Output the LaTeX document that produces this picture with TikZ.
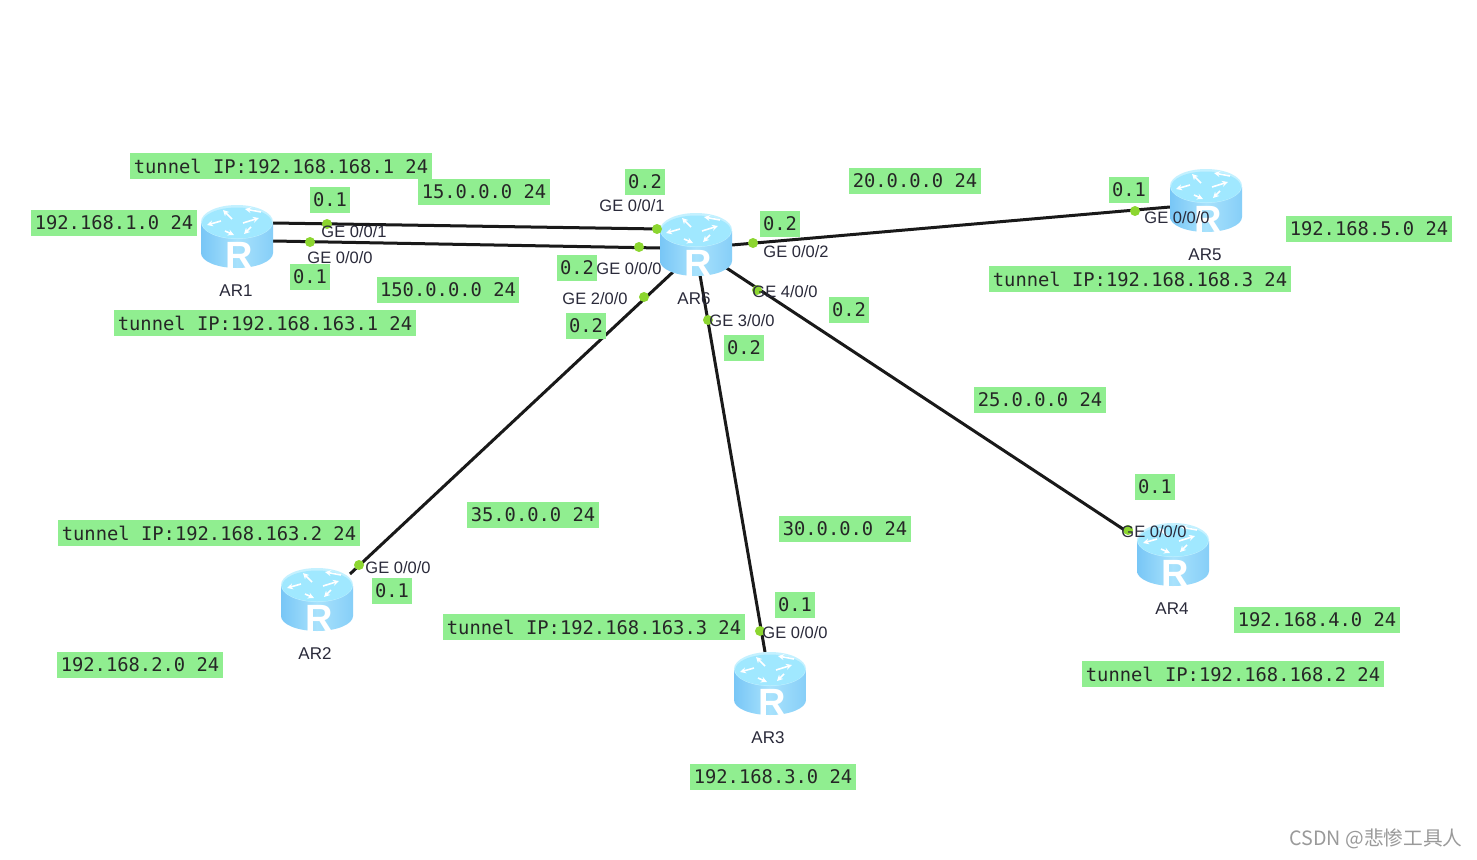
\documentclass[tikz,border=0pt]{standalone}
\usepackage{fontspec}
\setmainfont{Liberation Sans}
\newfontfamily\boxmono{DejaVu Sans Mono}
\newfontfamily\cjkmark{Noto Sans CJK SC}
\usetikzlibrary{calc,arrows.meta}
\definecolor{boxgreen}{HTML}{90EE90}
\definecolor{dotgreen}{HTML}{8CD630}
\definecolor{routertop}{HTML}{A0E8FF}
\definecolor{routerrim}{HTML}{C4F1FF}
\definecolor{routerhi}{HTML}{A8E2FC}
\definecolor{routerlo}{HTML}{78C6F6}
\definecolor{marktext}{HTML}{9A9A9A}
\definecolor{linktext}{HTML}{2A2A3A}
\tikzset{
  x=1pt,y=-1pt,
  greenbox/.style={fill=boxgreen,inner xsep=3.5pt,inner ysep=0pt,minimum height=26pt,font=\boxmono\fontsize{18.8}{20}\selectfont,text=black!85},
  routerbox/.style={minimum width=72pt,minimum height=64pt,inner sep=0pt},
  devlabel/.style={inner sep=0pt,font=\fontsize{17}{19}\selectfont,text=linktext},
  portlabel/.style={inner sep=0pt,font=\fontsize{16.5}{18}\selectfont,text=linktext},
  portdot/.style={circle,fill=dotgreen,minimum size=10pt,inner sep=0pt},
  linkline/.style={draw=black!90,line width=3pt},
  routerarrow/.style={white,line width=1.6pt,-{Stealth[length=6pt,width=6pt]}},
  pics/routerpic/.style={code={
    \shade[left color=routerlo,right color=routerlo!70!routerhi,middle color=routerhi]
      (-36,-13) -- (-36,17) arc (180:0:36 and 15) -- (36,-13) -- cycle;
    \fill[routerrim] (0,-14) ellipse (36 and 17);
    \fill[routertop] (0,-13) ellipse (35 and 15.5);
    \draw[routerarrow] (-5,-17) -- (-14,-26);
    \draw[routerarrow] (-16,-15) -- (-30,-11);
    \draw[routerarrow] (6,-13) -- (22,-18);
    \draw[routerarrow] (14,-9) -- (7,-2);
    \draw[routerarrow] (-12,-5) -- (-3,-1);
    \draw[routerarrow] (24,-24) -- (8,-27);
    \node[inner sep=0pt,text=white,font=\bfseries\fontsize{38}{40}\selectfont] at (2,19) {R};
  }}
}
\begin{document}
\begin{tikzpicture}
\useasboundingbox[fill=white] (0,0) rectangle (1477,859);
% routers (anchors)
\node[routerbox] (ar1) at (237,236) {};
\node[routerbox] (ar2) at (317,599) {};
\node[routerbox] (ar3) at (770,683) {};
\node[routerbox] (ar4) at (1173,554) {};
\node[routerbox] (ar5) at (1206,200) {};
\node[routerbox] (ar6) at (696,244) {};
% link ends
\coordinate (l1a) at ($(ar1)+(36,-13)$);
\coordinate (l1b) at ($(ar6)+(-36,-15)$);
\coordinate (l2a) at ($(ar1)+(36,5)$);
\coordinate (l2b) at ($(ar6)+(-36,4)$);
\coordinate (l5a) at ($(ar6)+(36,1)$);
\coordinate (l5b) at ($(ar5)+(-36,7)$);
\coordinate (l4a) at ($(ar6)+(29,23)$);
\coordinate (l4b) at ($(ar4)+(-47,-23)$);
\coordinate (l3a) at ($(ar6)+(4,31)$);
\coordinate (l3b) at ($(ar3)+(-5,-31)$);
\coordinate (l2c) at ($(ar6)+(-23,28)$);
\coordinate (l2d) at ($(ar2)+(33,-25)$);
% connectors
\draw[linkline] (l1a) -- (l1b);
\draw[linkline] (l2a) -- (l2b);
\draw[linkline] (l5a) -- (l5b);
\draw[linkline] (l4a) -- (l4b);
\draw[linkline] (l3a) -- (l3b);
\draw[linkline] (l2c) -- (l2d);
% router bodies
\foreach \r in {ar1,ar2,ar3,ar4,ar5,ar6} {\pic at (\r) {routerpic};}
% port dots
\node[portdot] (d1) at (327,224) {};
\node[portdot] (d2) at (310,242) {};
\node[portdot] (d3) at (657,229) {};
\node[portdot] (d4) at (639,247) {};
\node[portdot] (d5) at (753,243) {};
\node[portdot] (d6) at (1135,211) {};
\node[portdot] (d7) at (644,297) {};
\node[portdot] (d8) at (708,320) {};
\node[portdot] (d9) at (757,290) {};
\node[portdot] (d10) at (1128,530) {};
\node[portdot] (d11) at (359,565) {};
\node[portdot] (d12) at (760,631) {};
% device labels
\node[devlabel] (n1) at (236,291) {AR1};
\node[devlabel] (n2) at (315,654) {AR2};
\node[devlabel] (n3) at (768,738) {AR3};
\node[devlabel] (n4) at (1172,609) {AR4};
\node[devlabel] (n5) at (1205,255) {AR5};
\node[devlabel] (n6) at (694,299) {AR6};
% port labels
\node[portlabel] (p1) at (354,232) {GE 0/0/1};
\node[portlabel] (p2) at (340,258) {GE 0/0/0};
\node[portlabel] (p3) at (632,206) {GE 0/0/1};
\node[portlabel] (p4) at (629,269) {GE 0/0/0};
\node[portlabel] (p5) at (796,252) {GE 0/0/2};
\node[portlabel] (p6) at (595,299) {GE 2/0/0};
\node[portlabel] (p7) at (742,321) {GE 3/0/0};
\node[portlabel] (p8) at (785,292) {GE 4/0/0};
\node[portlabel] (p9) at (1177,218) {GE 0/0/0};
\node[portlabel] (p10) at (1154,532) {GE 0/0/0};
\node[portlabel] (p11) at (398,568) {GE 0/0/0};
\node[portlabel] (p12) at (795,633) {GE 0/0/0};
% green boxes
\node[greenbox] (b1) at (281,166) {tunnel IP:192.168.168.1 24};
\node[greenbox] (b2) at (484,192) {15.0.0.0 24};
\node[greenbox] (b3) at (645,182) {0.2};
\node[greenbox] (b4) at (330,200) {0.1};
\node[greenbox] (b5) at (114,223) {192.168.1.0 24};
\node[greenbox] (b6) at (310,277) {0.1};
\node[greenbox] (b7) at (448,290) {150.0.0.0 24};
\node[greenbox] (b8) at (265,323) {tunnel IP:192.168.163.1 24};
\node[greenbox] (b9) at (577,268) {0.2};
\node[greenbox] (b10) at (586,326) {0.2};
\node[greenbox] (b11) at (780,224) {0.2};
\node[greenbox] (b12) at (915,181) {20.0.0.0 24};
\node[greenbox] (b13) at (1129,190) {0.1};
\node[greenbox] (b14) at (1369,229) {192.168.5.0 24};
\node[greenbox] (b15) at (1140,279) {tunnel IP:192.168.168.3 24};
\node[greenbox] (b16) at (849,310) {0.2};
\node[greenbox] (b17) at (744,348) {0.2};
\node[greenbox] (b18) at (1040,400) {25.0.0.0 24};
\node[greenbox] (b19) at (1155,487) {0.1};
\node[greenbox] (b20) at (845,529) {30.0.0.0 24};
\node[greenbox] (b21) at (533,515) {35.0.0.0 24};
\node[greenbox] (b22) at (209,533) {tunnel IP:192.168.163.2 24};
\node[greenbox] (b23) at (392,591) {0.1};
\node[greenbox] (b24) at (795,605) {0.1};
\node[greenbox] (b25) at (594,627) {tunnel IP:192.168.163.3 24};
\node[greenbox] (b26) at (140,665) {192.168.2.0 24};
\node[greenbox] (b27) at (1317,620) {192.168.4.0 24};
\node[greenbox] (b28) at (1233,674) {tunnel IP:192.168.168.2 24};
\node[greenbox] (b29) at (773,777) {192.168.3.0 24};
% watermark
\node[inner sep=0pt,text=marktext,font=\cjkmark\fontsize{19.7}{21}\selectfont] (wm) at (1376,839) {CSDN @悲惨工具人};
\end{tikzpicture}
\end{document}
